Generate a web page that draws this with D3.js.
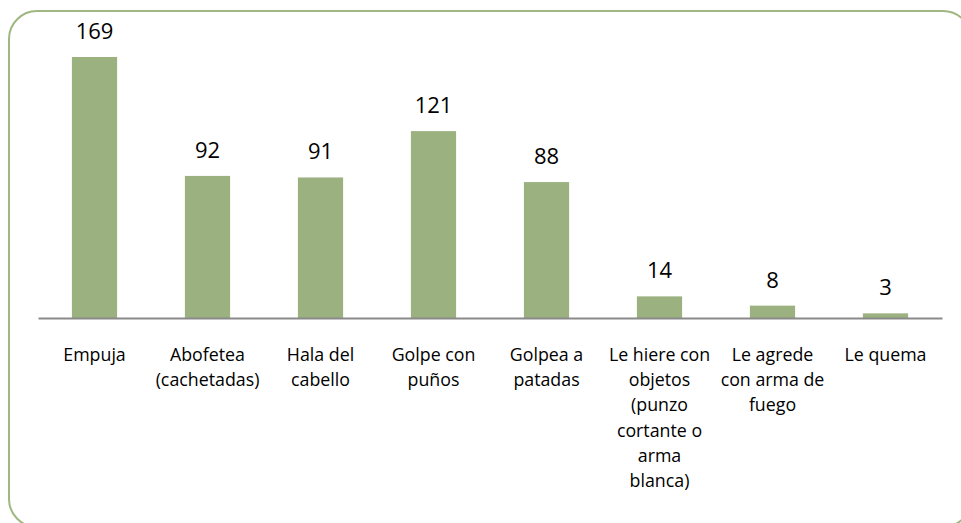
<html>
<head>
<meta charset="utf-8">
<style>
body
{
  margin:0;
  background:#fff;
}
text
{
  font-family:"Open Sans", "Noto Sans", sans-serif;
  fill:#000;
}
</style>
<script src="https://cdnjs.cloudflare.com/ajax/libs/d3/7.8.5/d3.min.js"></script>
</head>
<body>
<script>
// categories, split in the lines they are shown on
var categories = ["Empuja", "Abofetea (cachetadas)", "Hala del cabello", "Golpe con puños",
  "Golpea a patadas", "Le hiere con objetos (punzo cortante o arma blanca)",
  "Le agrede con arma de fuego", "Le quema"];
var labelLines = [
  ["Empuja"],
  ["Abofetea", "(cachetadas)"],
  ["Hala del", "cabello"],
  ["Golpe con", "puños"],
  ["Golpea a", "patadas"],
  ["Le hiere con", "objetos", "(punzo", "cortante o", "arma", "blanca)"],
  ["Le agrede", "con arma de", "fuego"],
  ["Le quema"]
];
var values = [169, 92, 91, 121, 88, 14, 8, 3];

var w = 961, h = 523;

var svg = d3.select("body")
  .append("svg")
  .attr("width", w)
  .attr("height", h);

// rounded chart frame (right and bottom edges run off the picture)
svg.append("rect")
  .attr("x", 9)
  .attr("y", 11)
  .attr("width", 962)
  .attr("height", 516)
  .attr("rx", 28)
  .attr("ry", 28)
  .style("fill", "none")
  .style("stroke", "#9fb781")
  .style("stroke-width", 2);

var x = d3.scaleBand()
  .domain(categories)
  .range([38, 942])
  .paddingInner(0.6)
  .paddingOuter(0.3);

var y = d3.scaleLinear()
  .domain([0, 180])
  .range([318, 40]);

svg.selectAll("rect.bar")
  .data(values)
  .enter()
  .append("rect")
  .attr("class", "bar")
  .attr("x", function(d, i){ return x(categories[i]); })
  .attr("y", function(d){ return y(d); })
  .attr("width", x.bandwidth())
  .attr("height", function(d){ return y(0) - y(d); })
  .style("fill", "#9bb17f");

// value labels
svg.selectAll("text.val")
  .data(values)
  .enter()
  .append("text")
  .attr("class", "val")
  .attr("x", function(d, i){ return x(categories[i]) + x.bandwidth() / 2; })
  .attr("y", function(d){ return y(d) - 18; })
  .attr("text-anchor", "middle")
  .style("font-size", "22px")
  .text(function(d){ return d; });

// baseline
var axis = svg.append("g")
  .attr("transform", "translate(0," + y(0) + ")")
  .call(d3.axisBottom(x).tickSize(0).tickFormat(""));
axis.select(".domain")
  .attr("stroke", "#8a8a8a")
  .attr("stroke-width", 2);

// category labels
var cat = svg.selectAll("text.cat")
  .data(categories)
  .enter()
  .append("text")
  .attr("class", "cat")
  .attr("text-anchor", "middle")
  .style("font-size", "17.8px")
  .attr("transform", function(d){ return "translate(" + (x(d) + x.bandwidth() / 2) + ",361)"; });

cat.each(function(d, i){
  var t = d3.select(this);
  labelLines[i].forEach(function(line, j){
    t.append("tspan")
      .attr("x", 0)
      .attr("y", j * 25.2)
      .text(line);
  });
});
</script>
</body>
</html>
